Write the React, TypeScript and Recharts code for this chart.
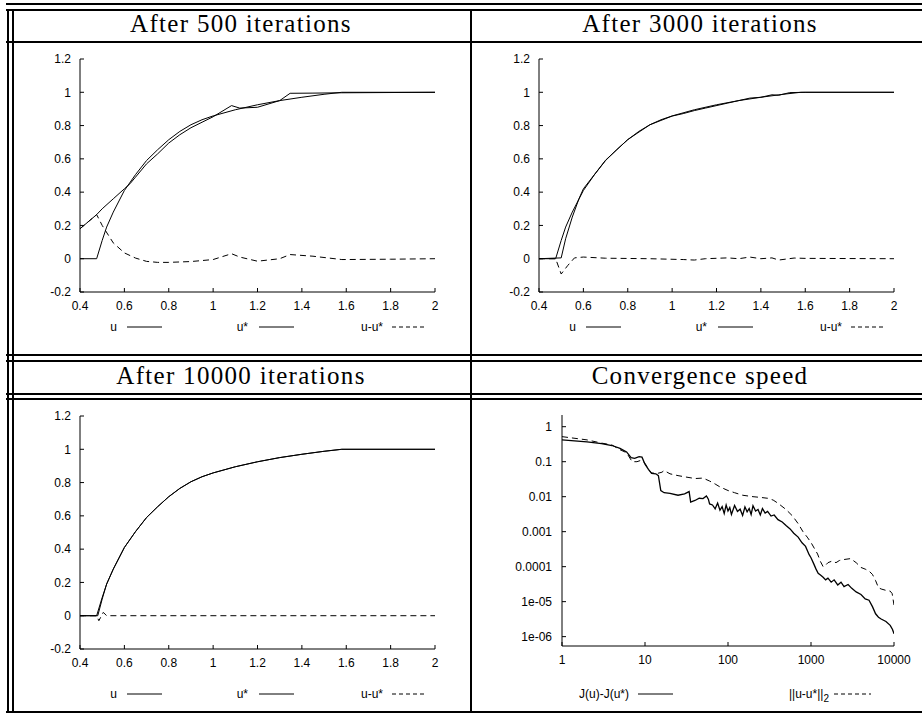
import React from 'react';
import { LineChart, Line, XAxis, YAxis } from 'recharts';

// exact solution u*
const U_STAR_X = [0.4, 0.475, 0.5, 0.52, 0.55, 0.6, 0.65, 0.7, 0.75, 0.8, 0.85, 0.9, 0.95, 1.0, 1.1, 1.2, 1.3, 1.4, 1.5, 1.58, 2.0];
const U_STAR_Y = [0, 0, 0.11, 0.19, 0.28, 0.41, 0.505, 0.59, 0.655, 0.715, 0.765, 0.805, 0.835, 0.858, 0.895, 0.925, 0.95, 0.97, 0.988, 1.0, 1.0];

// after 500 iterations
const U500_X = [0.4, 0.475, 0.5, 0.55, 0.6, 0.625, 0.65, 0.7, 0.75, 0.8, 0.85, 0.9, 0.95, 1.0, 1.083, 1.12, 1.2, 1.3, 1.347, 1.45, 1.58, 2.0];
const U500_Y = [0.18, 0.265, 0.3, 0.36, 0.42, 0.45, 0.49, 0.57, 0.63, 0.695, 0.745, 0.787, 0.82, 0.853, 0.92, 0.905, 0.91, 0.95, 0.994, 0.995, 0.997, 1.0];
const D500_X = [0.4, 0.475, 0.5, 0.55, 0.6, 0.65, 0.7, 0.75, 0.8, 0.9, 1.0, 1.083, 1.12, 1.2, 1.3, 1.347, 1.45, 1.58, 1.8, 2.0];
const D500_Y = [0.18, 0.265, 0.2, 0.095, 0.035, 0.004, -0.016, -0.022, -0.022, -0.017, -0.005, 0.03, 0.01, -0.015, 0.0, 0.025, 0.015, -0.005, -0.003, 0];

// after 3000 iterations
const U3000_X = [0.4, 0.5, 0.52, 0.55, 0.58, 0.6, 0.7, 0.8, 0.9, 1.0, 1.05, 1.1, 1.15, 1.25, 1.35, 1.4, 1.45, 1.48, 1.53, 1.6, 2.0];
const U3000_Y = [0, 0.005, 0.12, 0.25, 0.36, 0.42, 0.592, 0.716, 0.805, 0.857, 0.872, 0.89, 0.905, 0.935, 0.965, 0.97, 0.985, 0.982, 0.998, 1.0, 1.0];
const D3000_X = [0.4, 0.475, 0.5, 0.53, 0.56, 0.6, 0.7, 0.9, 1.05, 1.1, 1.15, 1.25, 1.3, 1.35, 1.4, 1.45, 1.48, 1.55, 1.6, 2.0];
const D3000_Y = [0, 0, -0.092, -0.04, 0.005, 0.01, 0.003, 0, -0.005, -0.008, 0, 0.005, 0, 0.01, 0, 0.005, -0.008, 0.004, 0.002, 0];

// after 10000 iterations
const U10000_X = [0.4, 0.48, 0.5, 0.52, 0.55, 0.6, 0.65, 0.7, 0.75, 0.8, 0.85, 0.9, 0.95, 1.0, 1.1, 1.2, 1.3, 1.4, 1.5, 1.58, 2.0];
const U10000_Y = [0, 0, 0.1, 0.19, 0.28, 0.41, 0.505, 0.59, 0.655, 0.715, 0.765, 0.805, 0.835, 0.858, 0.895, 0.925, 0.95, 0.97, 0.988, 1.0, 1.0];
const D10000_X = [0.4, 0.475, 0.485, 0.505, 0.52, 2.0];
const D10000_Y = [0, 0, -0.03, 0.02, 0, 0];

// convergence speed: J(u)-J(u*)
const J_X = [
  1, 2, 3, 4, 5, 6, 6.8, 7.5, 8.5, 9.2,
  10, 11, 12, 13.5, 14.5, 15.5, 17, 20, 25, 30,
  34, 35.5, 40, 45, 50, 55, 58, 60, 65, 70,
  75, 80, 85, 90, 95, 100, 105, 110, 120, 130,
  140, 150, 160, 170, 180, 190, 200, 215, 230, 245,
  260, 280, 300, 330, 360, 400, 450, 500, 560, 620,
  700, 780, 860, 950, 1000, 1080, 1150, 1220, 1300, 1400,
  1500, 1600, 1750, 1900, 2100, 2300, 2500, 2800, 3100, 3500,
  4000, 4500, 5000, 5500, 6000, 6500, 7000, 8000, 9000, 9600,
  10000,
];
const J_Y = [
  0.42, 0.37, 0.33, 0.29, 0.24, 0.19, 0.13, 0.125, 0.14, 0.135,
  0.085, 0.06, 0.046, 0.045, 0.04, 0.015, 0.013, 0.0125, 0.011, 0.012,
  0.014, 0.007, 0.0078, 0.009, 0.0088, 0.0105, 0.0085, 0.0062, 0.0058, 0.0045,
  0.0066, 0.0041, 0.0052, 0.0033, 0.0058, 0.0039, 0.0049, 0.0031, 0.0056, 0.0038,
  0.0044, 0.0029, 0.0051, 0.0037, 0.0046, 0.0031, 0.0055, 0.0039, 0.0043, 0.003,
  0.0046, 0.0034, 0.0038, 0.0028, 0.003, 0.0022, 0.0019, 0.0015, 0.0012, 0.0009,
  0.0007, 0.00048, 0.00038, 0.00022, 0.00018, 0.00012, 0.000085, 0.000065, 0.000058, 0.00005,
  0.000042, 0.000047, 0.000036, 0.000042, 0.00003, 0.000036, 0.000027, 0.000031, 0.000024, 0.000019,
  0.000016, 0.000012, 0.000011, 0.0000072, 0.0000045, 0.0000036, 0.0000032, 0.0000027, 0.0000021, 0.0000016,
  0.0000012,
];

// convergence speed: ||u-u*||_2
const E_X = [
  1, 2, 3, 4, 5, 6, 7, 8, 9, 10,
  11, 12, 14, 16, 17, 20, 25, 30, 40, 50,
  60, 70, 80, 100, 120, 150, 200, 250, 300, 350,
  400, 500, 600, 700, 800, 900, 1000, 1100, 1200, 1300,
  1400, 1500, 1600, 1800, 2000, 2200, 2500, 3000, 3500, 4000,
  4500, 5000, 5500, 6000, 6500, 7000, 8000, 9000, 9500, 10000,
];
const E_Y = [
  0.52, 0.42, 0.34, 0.3, 0.22, 0.18, 0.1, 0.1, 0.11, 0.09,
  0.06, 0.048, 0.046, 0.05, 0.056, 0.045, 0.04, 0.037, 0.033, 0.034,
  0.028, 0.023, 0.019, 0.015, 0.013, 0.011, 0.01, 0.0095, 0.009, 0.008,
  0.0065, 0.0043, 0.0028, 0.0017, 0.001, 0.0007, 0.00049, 0.00033, 0.00023, 0.00014,
  0.0001, 0.00011, 0.00013, 0.000145, 0.00013, 0.00015, 0.00016, 0.00017, 0.00013, 0.000095,
  0.000085, 0.000075, 0.00006, 0.00004, 0.000025, 0.000023, 0.000021, 0.00002, 0.000017, 0.000008,
];

const LIN_X_TICKS = [0.4, 0.6, 0.8, 1, 1.2, 1.4, 1.6, 1.8, 2];
const LIN_Y_TICKS = [-0.2, 0, 0.2, 0.4, 0.6, 0.8, 1, 1.2];
const LOG_X_TICKS = [1, 10, 100, 1000, 10000];
const LOG_Y_TICKS = [1, 0.1, 0.01, 0.001, 0.0001, 0.00001, 0.000001];
const LOG_Y_LABELS = ['1', '0.1', '0.01', '0.001', '0.0001', '1e-05', '1e-06'];
const LOG_X_DOMAIN = [1, 10000];
const LOG_Y_DOMAIN = [5.4e-7, 2.16];
const MINOR_STEPS = [2, 3, 4, 5, 6, 7, 8, 9];
const DECADES_X = [1, 10, 100, 1000];
const DECADES_Y = [1e-7, 1e-6, 1e-5, 1e-4, 1e-3, 1e-2, 1e-1, 1];

const HEADERS = ['After 500 iterations', 'After 3000 iterations', 'After 10000 iterations', 'Convergence speed'];
const LEGEND_U = ['u', 'u*', 'u-u*'];

const zip = (xs: number[], ys: number[]) => xs.map((x, i) => ({ x, y: ys[i] }));
const minorTicks = (decades: number[], dom: number[]) =>
  decades.flatMap((d) => MINOR_STEPS.map((m) => m * d)).filter((v) => v > dom[0] && v < dom[1]);

const SANS = '"Liberation Sans", Arial, Helvetica, sans-serif';
const SERIF = '"Liberation Serif", "Times New Roman", serif';
const AXIS_FONT = { fontSize: 12, fontFamily: SANS, fill: '#000' };
const PAD_L = 70;
const PAD_T = 10;
const PAD_R = 26;
const PAD_B = 30;

type Frame = { x0: number; x1: number; y0: number; y1: number };
type Series = { data: { x: number; y: number }[]; dashed?: boolean; width?: number };

const FRAME_A: Frame = { x0: 80, x1: 435, y0: 59, y1: 292 };
const FRAME_B: Frame = { x0: 539, x1: 894, y0: 59, y1: 292 };
const FRAME_C: Frame = { x0: 80, x1: 435, y0: 416, y1: 649 };
const FRAME_D: Frame = { x0: 562, x1: 894, y0: 415, y1: 646 };

function renderLines(series: Series[]) {
  return series.map((s, i) => (
    <Line
      key={'s' + i}
      xAxisId="b"
      yAxisId="l"
      data={s.data}
      dataKey="y"
      type="linear"
      stroke="#000"
      strokeWidth={s.width ?? 1}
      strokeDasharray={s.dashed ? '6 4' : undefined}
      dot={false}
      activeDot={false}
      isAnimationActive={false}
    />
  ));
}

function LinearPanel({ frame, series }: { frame: Frame; series: Series[] }) {
  const w = frame.x1 - frame.x0 + PAD_L + PAD_R;
  const h = frame.y1 - frame.y0 + PAD_T + PAD_B;
  const xd = [0.4, 2];
  const yd = [-0.2, 1.2];
  return (
    <div style={{ position: 'absolute', left: frame.x0 - PAD_L, top: frame.y0 - PAD_T }}>
      <LineChart width={w} height={h} margin={{ top: PAD_T, right: PAD_R, left: 0, bottom: 0 }}>
        <XAxis xAxisId="b" type="number" dataKey="x" orientation="bottom" domain={xd} ticks={LIN_X_TICKS} interval={0}
          allowDataOverflow height={PAD_B} tickSize={-4} tickMargin={13} stroke="#000" tick={AXIS_FONT} />
        <XAxis xAxisId="t" type="number" orientation="top" domain={xd} ticks={LIN_X_TICKS} interval={0}
          allowDataOverflow height={0} tickSize={-4} tick={false} stroke="#000" />
        <YAxis yAxisId="l" type="number" orientation="left" domain={yd} ticks={LIN_Y_TICKS} interval={0}
          allowDataOverflow width={PAD_L} tickSize={-4} tickMargin={13} stroke="#000" tick={AXIS_FONT} />
        <YAxis yAxisId="r" type="number" orientation="right" domain={yd} ticks={LIN_Y_TICKS} interval={0}
          allowDataOverflow width={0} tickSize={-4} tick={false} stroke="#000" />
        {renderLines(series)}
      </LineChart>
    </div>
  );
}

function LogPanel({ frame, series }: { frame: Frame; series: Series[] }) {
  const w = frame.x1 - frame.x0 + PAD_L + PAD_R;
  const h = frame.y1 - frame.y0 + PAD_T + PAD_B;
  const xMinor = minorTicks(DECADES_X, LOG_X_DOMAIN);
  const yMinor = minorTicks(DECADES_Y, LOG_Y_DOMAIN);
  return (
    <div style={{ position: 'absolute', left: frame.x0 - PAD_L, top: frame.y0 - PAD_T }}>
      <LineChart width={w} height={h} margin={{ top: PAD_T, right: PAD_R, left: 0, bottom: 0 }}>
        <XAxis xAxisId="mb" type="number" scale="log" orientation="bottom" domain={LOG_X_DOMAIN} ticks={xMinor} interval={0}
          allowDataOverflow height={0} tickSize={-2} tick={false} axisLine={false} stroke="#000" />
        <XAxis xAxisId="b" type="number" scale="log" dataKey="x" orientation="bottom" domain={LOG_X_DOMAIN} ticks={LOG_X_TICKS} interval={0}
          allowDataOverflow height={PAD_B} tickSize={-4} tickMargin={13} stroke="#000" tick={AXIS_FONT} />
        <XAxis xAxisId="mt" type="number" scale="log" orientation="top" domain={LOG_X_DOMAIN} ticks={xMinor} interval={0}
          allowDataOverflow height={0} tickSize={-2} tick={false} axisLine={false} stroke="#000" />
        <XAxis xAxisId="t" type="number" scale="log" orientation="top" domain={LOG_X_DOMAIN} ticks={LOG_X_TICKS} interval={0}
          allowDataOverflow height={0} tickSize={-4} tick={false} stroke="#000" />
        <YAxis yAxisId="ml" type="number" scale="log" orientation="left" domain={LOG_Y_DOMAIN} ticks={yMinor} interval={0}
          allowDataOverflow width={0} tickSize={-2} tick={false} axisLine={false} stroke="#000" />
        <YAxis yAxisId="l" type="number" scale="log" orientation="left" domain={LOG_Y_DOMAIN} ticks={LOG_Y_TICKS} interval={0}
          allowDataOverflow width={PAD_L} tickSize={-4} tickMargin={14} stroke="#000" tick={AXIS_FONT}
          tickFormatter={(v: number) => LOG_Y_LABELS[LOG_Y_TICKS.indexOf(v)] ?? String(v)} />
        <YAxis yAxisId="mr" type="number" scale="log" orientation="right" domain={LOG_Y_DOMAIN} ticks={yMinor} interval={0}
          allowDataOverflow width={0} tickSize={-2} tick={false} axisLine={false} stroke="#000" />
        <YAxis yAxisId="r" type="number" scale="log" orientation="right" domain={LOG_Y_DOMAIN} ticks={LOG_Y_TICKS} interval={0}
          allowDataOverflow width={0} tickSize={-4} tick={false} stroke="#000" />
        {renderLines(series)}
      </LineChart>
    </div>
  );
}

// legend for the u / u* / u-u* panels, offsets relative to the frame's left edge
function ULegend({ frame, y }: { frame: Frame; y: number }) {
  const x = frame.x0;
  const items = [
    { tx: 37, l0: 47, l1: 82, dashed: false },
    { tx: 168, l0: 179, l1: 214, dashed: false },
    { tx: 303, l0: 312, l1: 346, dashed: true },
  ];
  return (
    <g>
      {items.map((it, i) => (
        <g key={i}>
          <text x={x + it.tx} y={y + 4} textAnchor="end" fontSize={12} fontFamily={SANS}>{LEGEND_U[i]}</text>
          <line x1={x + it.l0} x2={x + it.l1} y1={y} y2={y} stroke="#000" strokeWidth={1} strokeDasharray={it.dashed ? '4 3' : undefined} />
        </g>
      ))}
    </g>
  );
}

const H_LINES = [3, 9, 41, 354, 360, 393, 398, 711];
const V_LINES = [7, 12, 470];

export default function App() {
  return (
    <div style={{ position: 'absolute', left: 0, top: 0, width: 922, height: 715, background: '#fff', overflow: 'hidden' }}>
      <svg width={922} height={715} style={{ position: 'absolute', left: 0, top: 0 }}>
        {H_LINES.map((y) => (
          <rect key={'h' + y} x={6} y={y} width={916} height={2} fill="#000" />
        ))}
        {V_LINES.map((x) => (
          <rect key={'v' + x} x={x} y={9} width={2} height={704} fill="#000" />
        ))}
        <text x={241} y={31.5} textAnchor="middle" fontSize={25} letterSpacing={1.3} fontFamily={SERIF}>{HEADERS[0]}</text>
        <text x={700} y={31.5} textAnchor="middle" fontSize={25} letterSpacing={1.3} fontFamily={SERIF}>{HEADERS[1]}</text>
        <text x={241} y={384} textAnchor="middle" fontSize={25} letterSpacing={1.3} fontFamily={SERIF}>{HEADERS[2]}</text>
        <text x={700} y={384} textAnchor="middle" fontSize={25} letterSpacing={1.3} fontFamily={SERIF}>{HEADERS[3]}</text>
        <ULegend frame={FRAME_A} y={327} />
        <ULegend frame={FRAME_B} y={327} />
        <ULegend frame={FRAME_C} y={694} />
        <g>
          <text x={629} y={698} textAnchor="end" fontSize={12} fontFamily={SANS}>J(u)-J(u*)</text>
          <line x1={638} x2={673} y1={694} y2={694} stroke="#000" strokeWidth={1} />
          <text x={829} y={698} textAnchor="end" fontSize={12} fontFamily={SANS}>
            ||u-u*||<tspan dy={4} fontSize={10}>2</tspan>
          </text>
          <line x1={834} x2={871} y1={694} y2={694} stroke="#000" strokeWidth={1} strokeDasharray="4 3" />
        </g>
      </svg>
      <LinearPanel
        frame={FRAME_A}
        series={[
          { data: zip(U500_X, U500_Y) },
          { data: zip(U_STAR_X, U_STAR_Y) },
          { data: zip(D500_X, D500_Y), dashed: true },
        ]}
      />
      <LinearPanel
        frame={FRAME_B}
        series={[
          { data: zip(U3000_X, U3000_Y) },
          { data: zip(U_STAR_X, U_STAR_Y) },
          { data: zip(D3000_X, D3000_Y), dashed: true },
        ]}
      />
      <LinearPanel
        frame={FRAME_C}
        series={[
          { data: zip(U10000_X, U10000_Y) },
          { data: zip(U_STAR_X, U_STAR_Y) },
          { data: zip(D10000_X, D10000_Y), dashed: true },
        ]}
      />
      <LogPanel
        frame={FRAME_D}
        series={[
          { data: zip(J_X, J_Y), width: 1.3 },
          { data: zip(E_X, E_Y), dashed: true },
        ]}
      />
    </div>
  );
}
